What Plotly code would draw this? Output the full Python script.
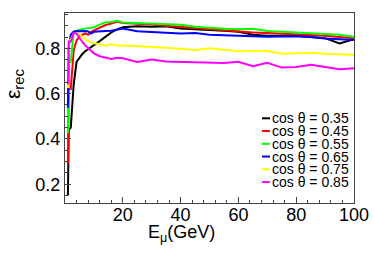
import plotly.graph_objects as go

energy = [1, 1.3, 2, 3, 4, 5, 6, 7, 8, 9, 10, 12, 14, 16, 18, 20, 25, 30, 35, 40,
          45, 50, 55, 60, 65, 70, 75, 80, 85, 90, 95, 100]

eff_035 = [0.15, 0.44, 0.45, 0.64, 0.74, 0.76, 0.775, 0.787, 0.797, 0.806, 0.814, 0.832,
           0.852, 0.87, 0.884, 0.893, 0.898, 0.895, 0.897, 0.888, 0.884, 0.882, 0.878,
           0.873, 0.86, 0.856, 0.855, 0.855, 0.85, 0.845, 0.822, 0.84]
eff_045 = [0.29, 0.62, 0.62, 0.79, 0.835, 0.852, 0.86, 0.866, 0.86, 0.873, 0.879, 0.89,
           0.903, 0.909, 0.917, 0.912, 0.91, 0.905, 0.90, 0.895, 0.888, 0.882, 0.878,
           0.875, 0.87, 0.868, 0.865, 0.864, 0.86, 0.855, 0.85, 0.845]
eff_055 = [0.425, 0.735, 0.74, 0.873, 0.878, 0.883, 0.885, 0.887, 0.888, 0.89, 0.893,
           0.905, 0.915, 0.916, 0.922, 0.914, 0.912, 0.91, 0.907, 0.904, 0.895, 0.89,
           0.887, 0.884, 0.886, 0.877, 0.872, 0.87, 0.867, 0.865, 0.86, 0.85]
eff_065 = [0.538, 0.81, 0.86, 0.873, 0.875, 0.876, 0.876, 0.877, 0.875, 0.865, 0.873,
           0.876, 0.876, 0.878, 0.884, 0.888, 0.875, 0.873, 0.87, 0.866, 0.868, 0.86,
           0.858, 0.855, 0.851, 0.851, 0.852, 0.853, 0.85, 0.843, 0.84, 0.837]
eff_075 = [0.625, 0.83, 0.84, 0.865, 0.868, 0.862, 0.85, 0.84, 0.832, 0.826, 0.822,
           0.819, 0.812, 0.818, 0.812, 0.812, 0.81, 0.806, 0.802, 0.798, 0.793, 0.80,
           0.795, 0.787, 0.788, 0.788, 0.776, 0.779, 0.78, 0.776, 0.774, 0.77]
eff_085 = [0.64, 0.83, 0.83, 0.868, 0.866, 0.845, 0.828, 0.813, 0.80, 0.79, 0.778,
           0.765, 0.758, 0.753, 0.758, 0.756, 0.74, 0.751, 0.742, 0.741, 0.739, 0.737,
           0.735, 0.741, 0.721, 0.736, 0.715, 0.718, 0.727, 0.718, 0.708, 0.712]

labels = ["cos θ = 0.35", "cos θ = 0.45", "cos θ = 0.55",
          "cos θ = 0.65", "cos θ = 0.75", "cos θ = 0.85"]
series = [eff_035, eff_045, eff_055, eff_065, eff_075, eff_085]
colors = ["#000000", "#ff0000", "#00ff00", "#0000ff", "#ffff00", "#ff00ff"]

FONT = "Liberation Sans, Arial, Helvetica, sans-serif"

fig = go.Figure()
for lab, ys, col in zip(labels, series, colors):
    fig.add_trace(go.Scatter(x=energy, y=ys, mode="lines", name=lab,
                             line=dict(color=col, width=2), showlegend=False))

# legend drawn as text rows with short colored keys
W, H = 374, 254
ml, mr, mt, mb = 65, 20, 13, 51
pw, ph = W - ml - mr, H - mt - mb
row0 = 118.3
step = 12.75
for i, (lab, col) in enumerate(zip(labels, colors)):
    ypx = row0 + i * step
    yp = 1 - (ypx - mt) / ph
    fig.add_shape(type="line", xref="paper", yref="paper",
                  x0=(262 - ml) / pw, x1=(270 - ml) / pw, y0=yp, y1=yp,
                  line=dict(color=col, width=2))
    fig.add_annotation(x=(270 - ml) / pw, y=yp, xref="paper", yref="paper",
                       text=lab, showarrow=False, xanchor="left", yanchor="middle",
                       font=dict(family=FONT, size=14, color="#000"))

fig.add_annotation(x=-(ml - 14) / pw, y=1 - (84 - mt) / ph, xref="paper", yref="paper",
                   text="ε<sub>rec</sub>", textangle=-90, showarrow=False,
                   xanchor="center", yanchor="middle",
                   font=dict(family=FONT, size=21, color="#000"))
fig.add_annotation(x=(181 - ml) / pw, y=-(233 - mt - ph) / ph, xref="paper", yref="paper",
                   text="E<sub>μ</sub>(GeV)", showarrow=False,
                   xanchor="center", yanchor="middle",
                   font=dict(family=FONT, size=18, color="#000"))

axis_common = dict(showline=True, linecolor="#444", linewidth=1, mirror=True,
                   ticks="inside", tickcolor="#444", showgrid=False, zeroline=False,
                   automargin=False,
                   tickfont=dict(family=FONT, size=18, color="#000"))
fig.update_xaxes(range=[0, 100], tickvals=[20, 40, 60, 80, 100], ticklen=6,
                 ticklabelstandoff=-5,
                 minor=dict(dtick=4, ticks="inside", ticklen=3, tickcolor="#444"),
                 **axis_common)
fig.update_yaxes(range=[0.117, 0.956], tickvals=[0.2, 0.4, 0.6, 0.8], ticklen=6,
                 minor=dict(dtick=0.05, ticks="inside", ticklen=3, tickcolor="#444"),
                 **axis_common)
fig.update_layout(width=W, height=H, margin=dict(l=ml, r=mr, t=mt, b=mb),
                  plot_bgcolor="white", paper_bgcolor="white", showlegend=False)
fig.write_html("out.html", config={"displayModeBar": False},
               post_script="document.body.style.margin='0';document.body.style.padding='0';")
